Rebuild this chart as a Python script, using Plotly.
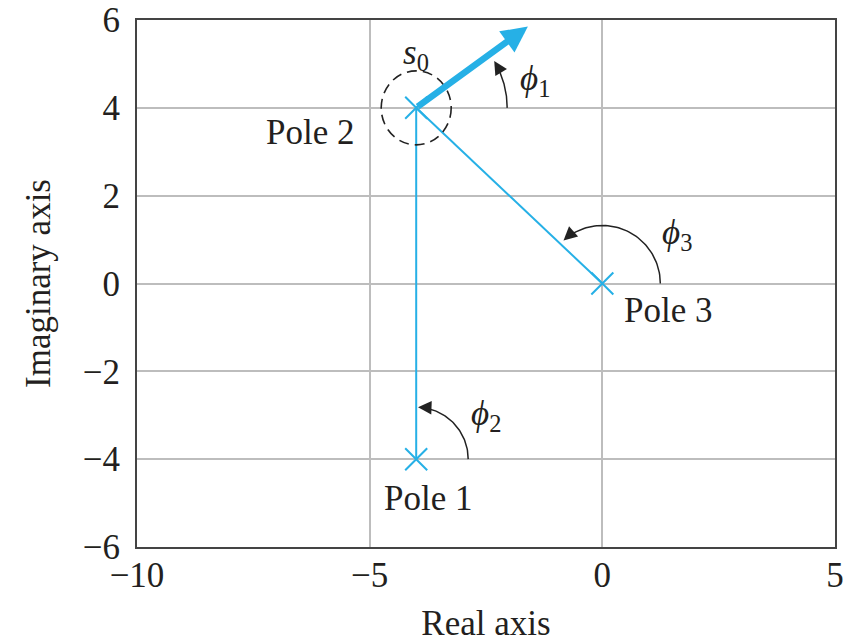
import numpy as np
import plotly.graph_objects as go

# Data
pole_names = ["Pole 1", "Pole 2", "Pole 3"]
pole_re = [-4, -4, 0]
pole_im = [-4, 4, 0]
x_ticks = [-10, -5, 0, 5]
y_ticks = [-6, -4, -2, 0, 2, 4, 6]
s0 = (-4, 4)
departure_tip = (-1.6, 5.85)

BLUE = "#26b0e6"
TXT = "#231f20"
FONT = "Liberation Serif"
FS = 35

# pixel scale (for isotropic arcs)
PXX = 698 / 15.0
PXY = 527 / 12.0

def arc(cx, cy, r_px, a0, a1, n=60):
    t = np.radians(np.linspace(a0, a1, n))
    return cx + r_px * np.cos(t) / PXX, cy + r_px * np.sin(t) / PXY

fig = go.Figure()

# pole connecting lines
fig.add_trace(go.Scatter(x=[pole_re[0], pole_re[1]], y=[pole_im[0], pole_im[1]], mode="lines",
                         line=dict(color=BLUE, width=2), hoverinfo="skip"))
fig.add_trace(go.Scatter(x=[pole_re[2], pole_re[1]], y=[pole_im[2], pole_im[1]], mode="lines",
                         line=dict(color=BLUE, width=2), hoverinfo="skip"))
# pole markers
fig.add_trace(go.Scatter(x=pole_re, y=pole_im, mode="markers",
                         marker=dict(symbol="x-thin", size=22, line=dict(color=BLUE, width=2)),
                         hoverinfo="skip"))

# angle arcs
arcs = [
    (pole_re[1], pole_im[1], 91, 0, 27),   # phi1
    (pole_re[0], pole_im[0], 52, 0, 84),   # phi2
    (pole_re[2], pole_im[2], 58, 0, 128),  # phi3
]
for cx, cy, r, a0, a1 in arcs:
    ax_, ay_ = arc(cx, cy, r, a0, a1)
    fig.add_trace(go.Scatter(x=ax_, y=ay_, mode="lines", line=dict(color="#222", width=1.5),
                             hoverinfo="skip"))
    ang = np.radians(a1 + 4)
    hx = cx + r * np.cos(ang) / PXX
    hy = cy + r * np.sin(ang) / PXY
    tang = ang - np.pi / 2
    fig.add_annotation(x=hx, y=hy, xref="x", yref="y", text="", showarrow=True,
                       ax=9 * np.cos(tang), ay=-9 * np.sin(tang),
                       arrowhead=2, arrowsize=1.8, arrowwidth=1.5, arrowcolor="#222", standoff=0)

# departure arrow
fig.add_annotation(x=departure_tip[0], y=departure_tip[1], ax=s0[0], ay=s0[1],
                   xref="x", yref="y", axref="x", ayref="y", text="", showarrow=True,
                   arrowhead=2, arrowsize=0.8, arrowwidth=6.5, arrowcolor=BLUE, standoff=0)

# dashed circle around s0
fig.add_shape(type="circle", xref="x", yref="y",
              x0=s0[0] - 35 / PXX, x1=s0[0] + 35 / PXX,
              y0=s0[1] - 37 / PXY, y1=s0[1] + 37 / PXY,
              line=dict(color="#222", width=1.6, dash="10px,6px"))

labels = [
    (-4.0, 5.22, "<i>s</i><sub>0</sub>"),
    (-1.45, 4.62, "<i>ϕ</i><sub>1</sub>"),
    (-2.5, -3.0, "<i>ϕ</i><sub>2</sub>"),
    (1.6, 1.12, "<i>ϕ</i><sub>3</sub>"),
    (-6.28, 3.43, "Pole 2"),
    (1.42, -0.62, "Pole 3"),
    (-3.74, -4.89, "Pole 1"),
]
for x, y, t in labels:
    fig.add_annotation(x=x, y=y, xref="x", yref="y", text=t, showarrow=False,
                       font=dict(family=FONT, size=FS, color=TXT))

fig.update_layout(
    width=846, height=643, showlegend=False,
    plot_bgcolor="white", paper_bgcolor="white",
    margin=dict(l=137, r=11, t=20, b=96),
    font=dict(family=FONT, size=FS, color=TXT),
)
fig.update_xaxes(range=[-10, 5], tickvals=x_ticks, showgrid=True, gridcolor="#bdbdbd", gridwidth=1.5,
                 zeroline=False, showline=True, mirror=True, linecolor="#444", linewidth=2,
                 ticks="", automargin=False, ticklabelstandoff=-4,
                 title=dict(text="Real axis", standoff=18, font=dict(size=FS)), tickfont=dict(size=FS))
fig.update_yaxes(range=[-6, 6], tickvals=y_ticks, showgrid=True, gridcolor="#bdbdbd", gridwidth=1.5,
                 zeroline=False, showline=True, mirror=True, linecolor="#444", linewidth=2,
                 ticks="", automargin=False, ticklabelstandoff=8,
                 title=dict(text="Imaginary axis", standoff=22, font=dict(size=FS)), tickfont=dict(size=FS))

fig.write_html("out.html", config={"displayModeBar": False},
               post_script="document.body.style.margin='0';document.body.style.overflow='hidden';")
